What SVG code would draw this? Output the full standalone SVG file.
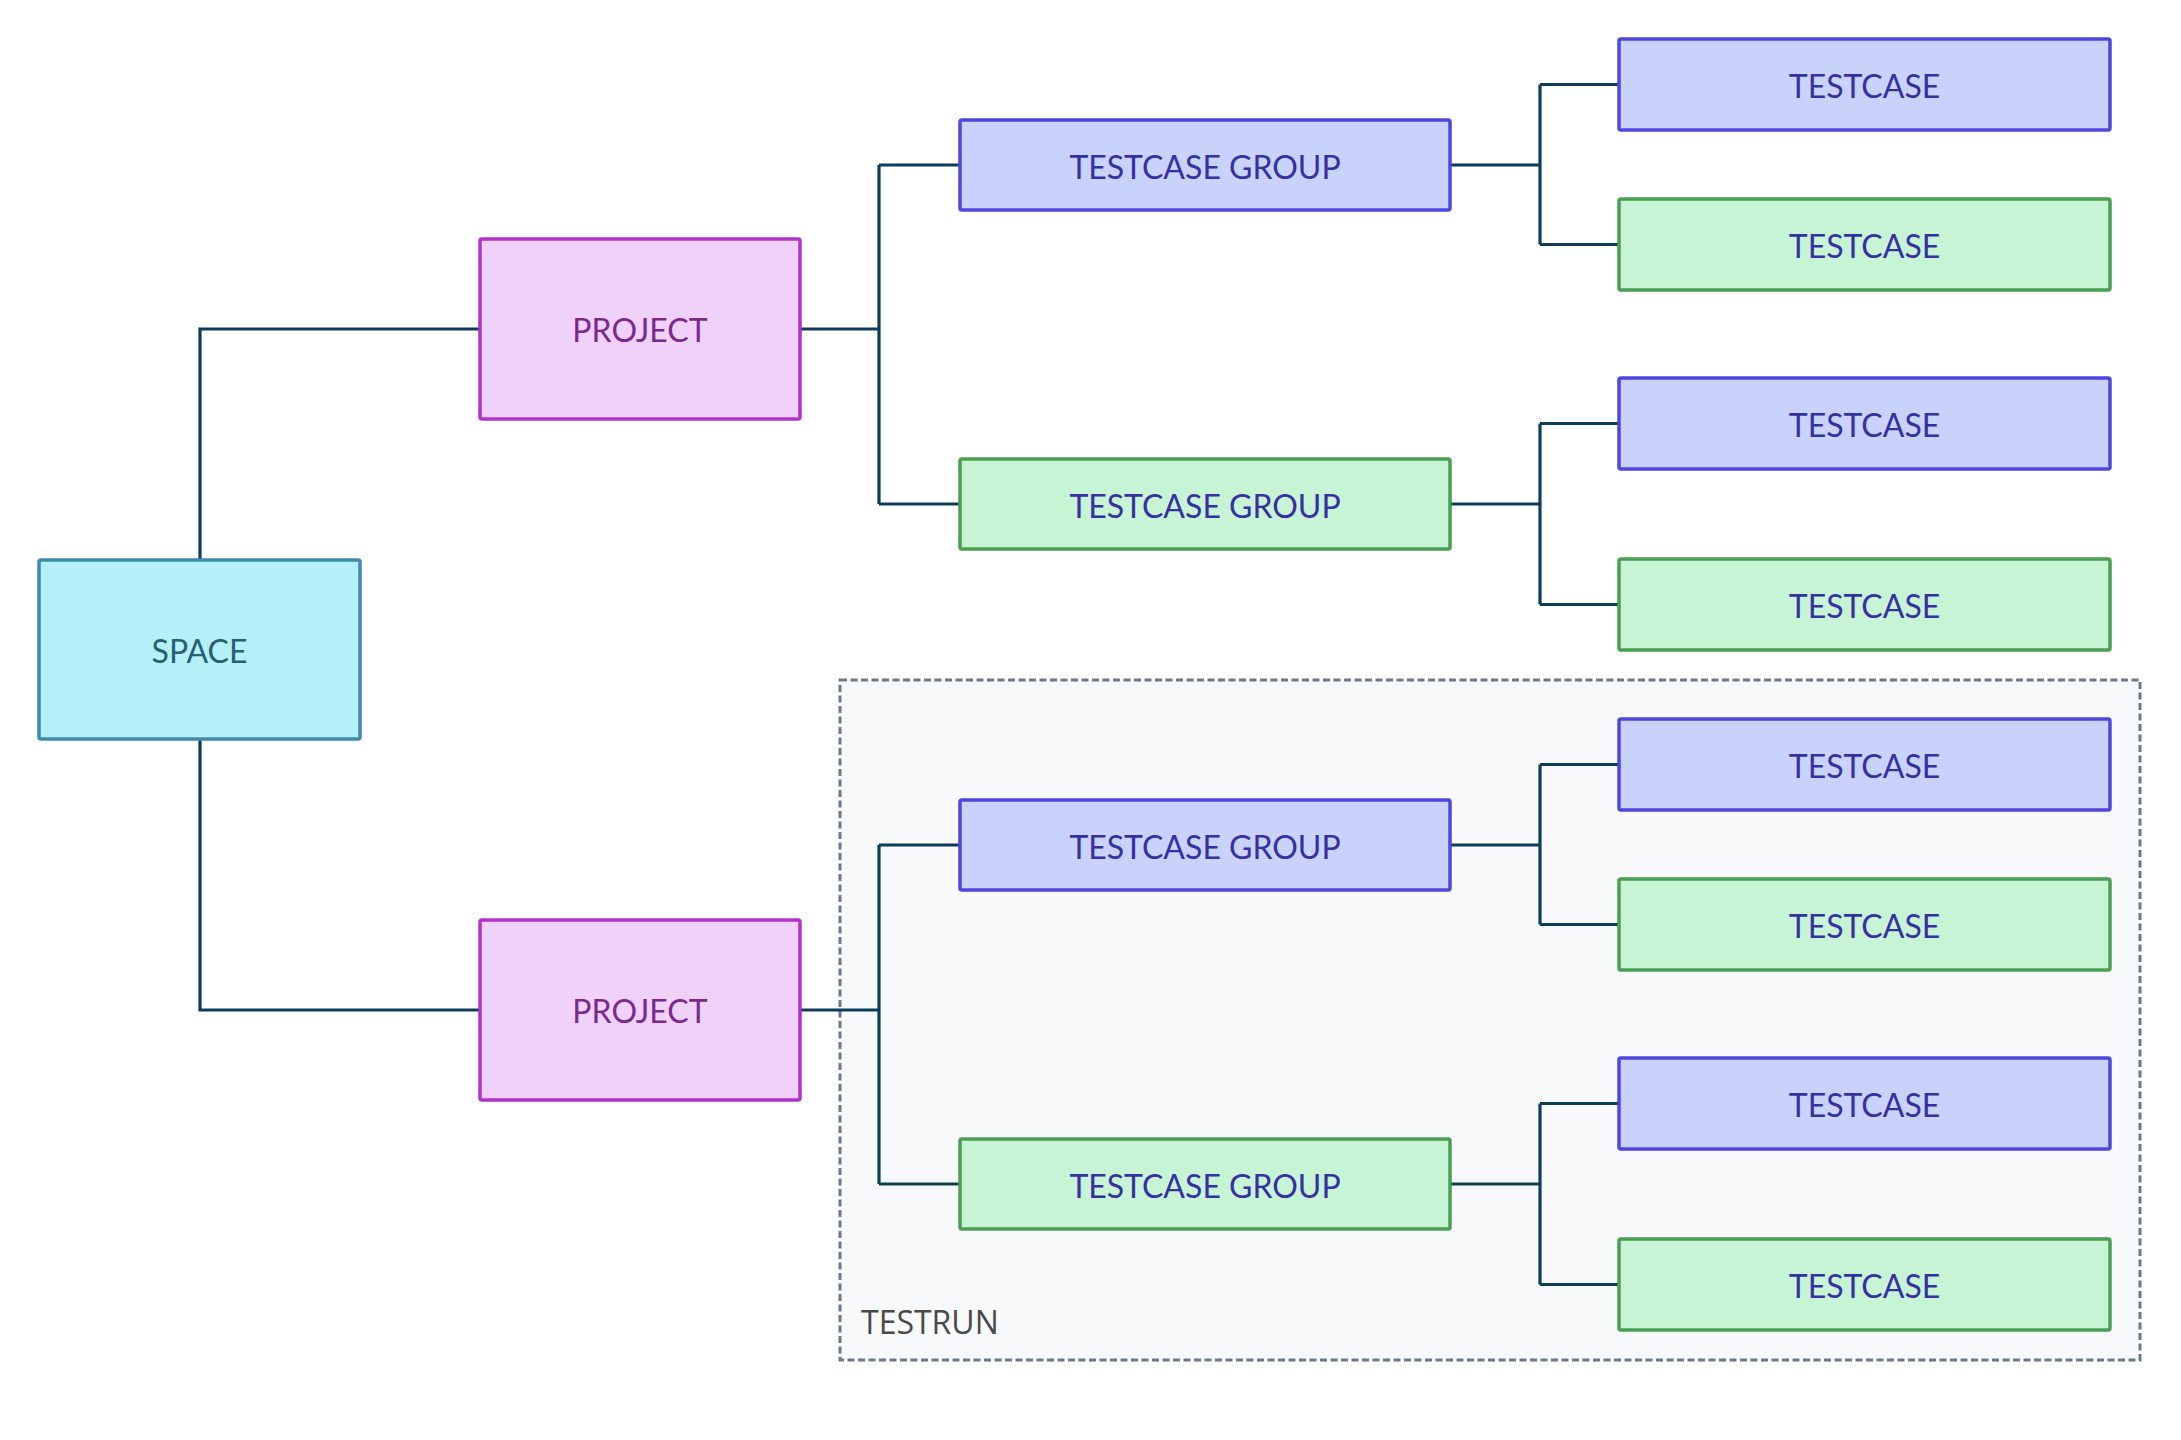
<svg xmlns="http://www.w3.org/2000/svg" width="2181" height="1440" viewBox="0 0 2181 1440">
<style>
  .box { stroke-width: 3.5; }
  .space { fill: #b5f0f8; stroke: #3f8bad; }
  .project { fill: #f0d1fa; stroke: #b232cc; }
  .blue { fill: #c8d2fb; stroke: #4f46e0; }
  .green { fill: #c6f4d4; stroke: #4a9f52; }
  .lbl { font-family: Lato, "Open Sans", "Liberation Sans", sans-serif; font-size: 32px; text-anchor: middle; }
  .t-space { fill: #285f73; }
  .t-project { fill: #7a2a8f; }
  .t-tc { fill: #3730a3; }
  .conn { fill: none; stroke: #0e3d5a; stroke-width: 3.2; }
  .run { fill: #f8f9fb; stroke: #6b7890; stroke-width: 3; stroke-dasharray: 7 3.5; }
  .t-run { font-family: "Open Sans", "Liberation Sans", sans-serif; font-size: 32px; fill: #4a4a4a; }
</style>
<rect width="2181" height="1440" fill="#ffffff"/>

<g id="testrun">
  <rect class="run" x="840" y="680" width="1300" height="680"/>
  <text class="t-run" x="861" y="1334">TESTRUN</text>
</g>

<g id="connectors">
  <path class="conn" d="M200 560 V329 H480"/>
  <path class="conn" d="M200 739 V1010 H480"/>
  <path class="conn" d="M800 329 H879 M879 165 V504 M879 165 H960 M879 504 H960"/>
  <path class="conn" d="M800 1010 H879 M879 845 V1184 M879 845 H960 M879 1184 H960"/>
  <path class="conn" d="M1450 165 H1540 M1540 84.5 V244.5 M1540 84.5 H1619 M1540 244.5 H1619"/>
  <path class="conn" d="M1450 504 H1540 M1540 423.5 V604.5 M1540 423.5 H1619 M1540 604.5 H1619"/>
  <path class="conn" d="M1450 845 H1540 M1540 764.5 V924.5 M1540 764.5 H1619 M1540 924.5 H1619"/>
  <path class="conn" d="M1450 1184 H1540 M1540 1103.5 V1284.5 M1540 1103.5 H1619 M1540 1284.5 H1619"/>
</g>

<g id="space">
  <rect class="box space" x="39" y="560" width="321" height="179" rx="2"/>
  <text class="lbl t-space" x="199.5" y="662.5">SPACE</text>
</g>

<g id="project1">
  <rect class="box project" x="480" y="239" width="320" height="180" rx="2"/>
  <text class="lbl t-project" x="640" y="342">PROJECT</text>
</g>
<g id="project2">
  <rect class="box project" x="480" y="920" width="320" height="180" rx="2"/>
  <text class="lbl t-project" x="640" y="1023">PROJECT</text>
</g>

<g id="group1">
  <rect class="box blue" x="960" y="120" width="490" height="90" rx="2"/>
  <text class="lbl t-tc" x="1205" y="178.5">TESTCASE GROUP</text>
</g>
<g id="group2">
  <rect class="box green" x="960" y="459" width="490" height="90" rx="2"/>
  <text class="lbl t-tc" x="1205" y="517.5">TESTCASE GROUP</text>
</g>
<g id="group3">
  <rect class="box blue" x="960" y="800" width="490" height="90" rx="2"/>
  <text class="lbl t-tc" x="1205" y="858.5">TESTCASE GROUP</text>
</g>
<g id="group4">
  <rect class="box green" x="960" y="1139" width="490" height="90" rx="2"/>
  <text class="lbl t-tc" x="1205" y="1197.5">TESTCASE GROUP</text>
</g>

<g id="tc1">
  <rect class="box blue" x="1619" y="39" width="491" height="91" rx="2"/>
  <text class="lbl t-tc" x="1864.5" y="98">TESTCASE</text>
</g>
<g id="tc2">
  <rect class="box green" x="1619" y="199" width="491" height="91" rx="2"/>
  <text class="lbl t-tc" x="1864.5" y="258">TESTCASE</text>
</g>
<g id="tc3">
  <rect class="box blue" x="1619" y="378" width="491" height="91" rx="2"/>
  <text class="lbl t-tc" x="1864.5" y="437">TESTCASE</text>
</g>
<g id="tc4">
  <rect class="box green" x="1619" y="559" width="491" height="91" rx="2"/>
  <text class="lbl t-tc" x="1864.5" y="618">TESTCASE</text>
</g>
<g id="tc5">
  <rect class="box blue" x="1619" y="719" width="491" height="91" rx="2"/>
  <text class="lbl t-tc" x="1864.5" y="778">TESTCASE</text>
</g>
<g id="tc6">
  <rect class="box green" x="1619" y="879" width="491" height="91" rx="2"/>
  <text class="lbl t-tc" x="1864.5" y="938">TESTCASE</text>
</g>
<g id="tc7">
  <rect class="box blue" x="1619" y="1058" width="491" height="91" rx="2"/>
  <text class="lbl t-tc" x="1864.5" y="1117">TESTCASE</text>
</g>
<g id="tc8">
  <rect class="box green" x="1619" y="1239" width="491" height="91" rx="2"/>
  <text class="lbl t-tc" x="1864.5" y="1298">TESTCASE</text>
</g>
</svg>
